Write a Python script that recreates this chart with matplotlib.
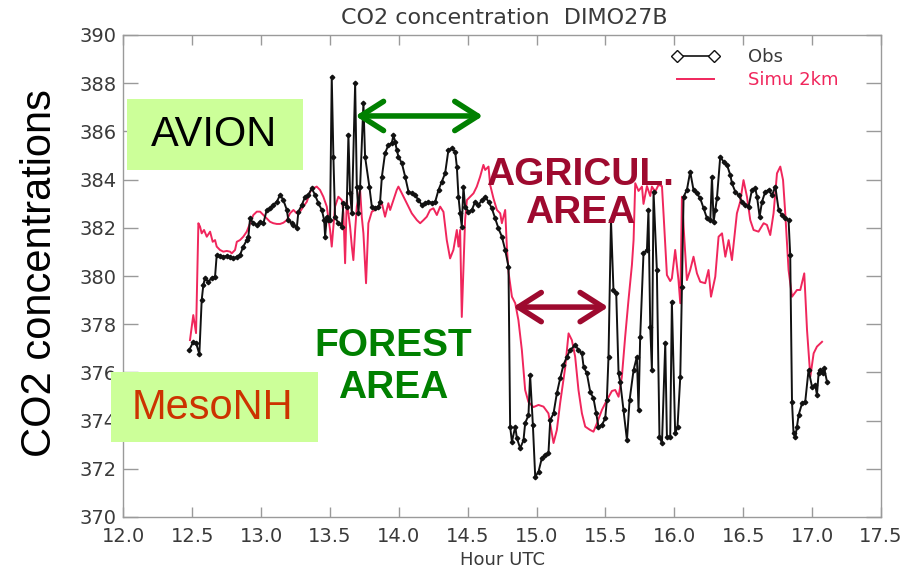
import matplotlib
matplotlib.use("Agg")
import matplotlib.pyplot as plt
from matplotlib.lines import Line2D
from matplotlib.patches import Rectangle

# ---------------- data ----------------
obs_hour = [12.479, 12.508, 12.528, 12.552, 12.569, 12.581, 12.593, 12.617, 12.642, 12.666,
            12.678, 12.702, 12.726, 12.751, 12.775, 12.799, 12.824, 12.847, 12.871, 12.896,
            12.908, 12.920, 12.944, 12.969, 12.993, 13.017, 13.041, 13.065, 13.089, 13.114,
            13.138, 13.162, 13.187, 13.198, 13.223, 13.235, 13.259, 13.271, 13.296, 13.320,
            13.343, 13.368, 13.392, 13.416, 13.441, 13.458, 13.465, 13.477, 13.489, 13.501,
            13.513, 13.525, 13.537, 13.561, 13.586, 13.598, 13.622, 13.634, 13.646, 13.659,
            13.683, 13.695, 13.707, 13.719, 13.743, 13.755, 13.786, 13.804, 13.828, 13.852,
            13.864, 13.877, 13.900, 13.924, 13.949, 13.961, 13.973, 13.985, 13.997, 14.022,
            14.046, 14.070, 14.094, 14.118, 14.142, 14.167, 14.191, 14.215, 14.240, 14.264,
            14.288, 14.312, 14.336, 14.360, 14.385, 14.409, 14.421, 14.433, 14.445, 14.457,
            14.469, 14.481, 14.505, 14.530, 14.554, 14.578, 14.603, 14.627, 14.651, 14.675,
            14.699, 14.723, 14.748, 14.772, 14.796, 14.808, 14.821, 14.845, 14.857, 14.881,
            14.905, 14.917, 14.941, 14.953, 14.973, 14.990, 15.014, 15.038, 15.062, 15.086,
            15.099, 15.123, 15.147, 15.171, 15.195, 15.220, 15.244, 15.280, 15.304, 15.329,
            15.341, 15.365, 15.389, 15.413, 15.433, 15.449, 15.474, 15.498, 15.510, 15.522,
            15.540, 15.558, 15.578, 15.595, 15.607, 15.631, 15.656, 15.675, 15.704, 15.728,
            15.740, 15.752, 15.776, 15.801, 15.812, 15.825, 15.837, 15.849, 15.873, 15.892,
            15.910, 15.934, 15.946, 15.970, 15.982, 16.006, 16.023, 16.043, 16.055, 16.067,
            16.091, 16.115, 16.139, 16.164, 16.188, 16.212, 16.237, 16.261, 16.273, 16.285,
            16.297, 16.309, 16.333, 16.357, 16.382, 16.406, 16.418, 16.442, 16.466, 16.491,
            16.515, 16.539, 16.563, 16.587, 16.600, 16.619, 16.636, 16.660, 16.684, 16.709,
            16.733, 16.757, 16.781, 16.805, 16.829, 16.841, 16.854, 16.865, 16.878, 16.890,
            16.902, 16.927, 16.950, 16.974, 16.999, 17.023, 17.035, 17.047, 17.059, 17.079,
            17.088, 17.108]

obs_ppm = [376.93, 377.27, 377.22, 376.76, 379.00, 379.63, 379.92, 379.76, 379.92, 379.97,
           380.87, 380.83, 380.79, 380.84, 380.78, 380.73, 380.80, 380.87, 381.22, 381.49,
           381.63, 382.39, 382.19, 382.12, 382.25, 382.19, 382.74, 382.81, 382.95, 383.08,
           383.36, 383.15, 382.74, 382.32, 382.19, 382.12, 381.98, 382.67, 382.95, 383.29,
           383.36, 383.64, 383.36, 383.02, 382.74, 382.32, 381.63, 382.46, 382.32, 382.32,
           388.27, 384.95, 382.46, 382.19, 382.05, 383.03, 382.88, 385.85, 383.44, 382.61,
           388.00, 383.71, 382.61, 383.71, 387.17, 384.95, 383.71, 382.88, 382.81, 382.88,
           383.08, 384.12, 385.09, 385.44, 385.51, 385.85, 385.57, 385.23, 384.95, 384.68,
           384.12, 383.50, 383.43, 383.36, 383.15, 382.95, 383.02, 383.08, 383.04, 383.08,
           383.57, 383.91, 384.26, 385.23, 385.30, 385.16, 384.54, 383.29, 382.60, 382.05,
           383.71, 382.88, 382.67, 382.74, 383.08, 382.95, 383.15, 383.29, 383.08, 382.81,
           382.39, 381.98, 381.63, 381.08, 380.39, 373.75, 373.12, 373.75, 373.27, 372.85,
           373.19, 373.89, 374.23, 375.89, 373.82, 371.67, 371.88, 372.44, 372.57, 372.64,
           374.02, 374.30, 375.13, 375.75, 376.31, 376.65, 376.93, 377.14, 376.93, 376.79,
           376.24, 375.96, 375.20, 374.92, 374.30, 373.75, 373.82, 374.09, 374.85, 376.65,
           382.32, 379.42, 379.28, 375.96, 375.61, 374.44, 373.19, 374.85, 376.10, 376.65,
           374.44, 377.48, 380.94, 381.08, 382.74, 377.90, 376.10, 383.50, 380.25, 373.33,
           373.06, 377.21, 373.33, 373.33, 378.93, 373.47, 373.75, 375.82, 379.56, 383.29,
           383.57, 384.33, 383.57, 383.43, 383.22, 382.81, 382.39, 382.32, 384.12, 382.25,
           382.74, 383.22, 384.95, 384.74, 384.61, 384.19, 383.85, 383.50, 383.36, 383.08,
           382.95, 382.88, 383.57, 383.64, 383.29, 382.46, 383.08, 383.50, 383.57, 383.36,
           383.71, 382.74, 382.53, 382.39, 382.32, 380.87, 374.78, 373.47, 373.33, 373.75,
           374.23, 374.72, 374.78, 376.10, 375.41, 375.48, 375.06, 375.96, 376.10, 375.96,
           376.17, 375.61]

simu_hour = [12.484, 12.508, 12.528, 12.545, 12.557, 12.569, 12.586, 12.606, 12.630, 12.649,
             12.666, 12.678, 12.702, 12.726, 12.751, 12.775, 12.787, 12.811, 12.824, 12.847,
             12.871, 12.896, 12.920, 12.944, 12.969, 12.993, 13.017, 13.041, 13.065, 13.089,
             13.114, 13.138, 13.162, 13.187, 13.210, 13.235, 13.259, 13.283, 13.307, 13.332,
             13.356, 13.380, 13.404, 13.428, 13.452, 13.477, 13.501, 13.513, 13.537, 13.561,
             13.586, 13.598, 13.610, 13.622, 13.646, 13.659, 13.670, 13.683, 13.695, 13.719,
             13.731, 13.743, 13.762, 13.779, 13.804, 13.828, 13.852, 13.877, 13.900, 13.924,
             13.937, 13.961, 13.985, 13.997, 14.022, 14.046, 14.070, 14.094, 14.131, 14.155,
             14.179, 14.203, 14.227, 14.251, 14.276, 14.300, 14.324, 14.348, 14.372, 14.396,
             14.421, 14.433, 14.445, 14.457, 14.469, 14.481, 14.494, 14.518, 14.542, 14.566,
             14.590, 14.614, 14.627, 14.651, 14.663, 14.687, 14.712, 14.736, 14.748, 14.772,
             14.784, 14.796, 14.821, 14.845, 14.868, 14.893, 14.917, 14.941, 14.977, 15.014,
             15.050, 15.086, 15.123, 15.147, 15.171, 15.208, 15.232, 15.256, 15.280, 15.304,
             15.329, 15.353, 15.389, 15.413, 15.438, 15.474, 15.510, 15.547, 15.571, 15.595,
             15.619, 15.643, 15.667, 15.692, 15.704, 15.716, 15.740, 15.765, 15.776, 15.801,
             15.825, 15.837, 15.861, 15.885, 15.910, 15.922, 15.946, 15.970, 15.982, 16.006,
             16.030, 16.043, 16.055, 16.067, 16.091, 16.115, 16.139, 16.164, 16.188, 16.224,
             16.248, 16.266, 16.297, 16.321, 16.346, 16.370, 16.394, 16.418, 16.454, 16.478,
             16.502, 16.527, 16.551, 16.575, 16.611, 16.648, 16.672, 16.696, 16.720, 16.745,
             16.769, 16.789, 16.805, 16.829, 16.854, 16.890, 16.914, 16.943, 16.963, 16.987,
             17.011, 17.035, 17.072]

simu_ppm = [377.34, 378.38, 377.63, 382.19, 382.05, 381.77, 381.91, 381.63, 381.84, 381.42,
            381.49, 381.22, 381.08, 381.01, 381.04, 381.01, 380.94, 381.08, 381.42, 381.49,
            381.63, 381.84, 382.19, 382.53, 382.67, 382.67, 382.53, 382.39, 382.25, 382.19,
            382.16, 382.16, 382.21, 382.32, 382.60, 382.74, 382.60, 382.67, 382.88, 383.08,
            383.50, 383.64, 383.71, 383.57, 383.29, 382.88, 381.91, 381.22, 382.88, 383.29,
            383.15, 382.60, 380.53, 383.15, 382.05, 381.22, 380.66, 381.91, 382.88, 383.57,
            382.46, 381.77, 379.70, 382.19, 382.67, 382.74, 382.88, 383.02, 382.46, 383.02,
            382.74, 383.15, 383.57, 383.71, 383.43, 383.15, 382.88, 382.60, 382.32, 382.19,
            382.32, 382.46, 382.74, 382.81, 382.53, 382.88, 382.66, 381.49, 380.73, 381.08,
            381.91, 381.22, 381.91, 378.30, 380.25, 382.32, 383.15, 383.29, 383.43, 383.71,
            384.12, 384.61, 384.40, 384.54, 383.78, 383.22, 382.74, 382.60, 382.19, 382.74,
            381.22, 380.17, 379.14, 378.87, 378.17, 376.93, 375.27, 374.77, 374.56, 374.65,
            374.58, 374.30, 373.07, 373.61, 374.73, 376.22, 377.62, 377.34, 376.65, 375.27,
            374.30, 373.75, 373.61, 373.54, 373.89, 374.44, 374.85, 375.23, 375.27, 374.99,
            375.82, 377.48, 379.00, 380.46, 381.49, 383.85, 383.53, 383.71, 382.99, 383.73,
            383.32, 383.71, 383.50, 383.78, 383.73, 382.53, 380.04, 379.79, 379.90, 381.08,
            379.83, 378.87, 383.29, 382.05, 379.83, 380.25, 380.80, 380.11, 379.76, 379.70,
            380.25, 379.14, 379.97, 381.63, 381.77, 380.80, 381.49, 380.66, 382.60, 383.08,
            383.98, 383.29, 382.32, 381.91, 381.84, 382.19, 382.12, 381.70, 382.60, 384.26,
            384.54, 383.98, 382.60, 380.25, 379.14, 379.42, 379.42, 380.11, 377.76, 375.82,
            376.79, 377.07, 377.27]

x_ticks = [12.0, 12.5, 13.0, 13.5, 14.0, 14.5, 15.0, 15.5, 16.0, 16.5, 17.0, 17.5]
y_ticks = [370, 372, 374, 376, 378, 380, 382, 384, 386, 388, 390]

# ---------------- figure ----------------
W, H = 902, 571
fig = plt.figure(figsize=(W / 100, H / 100), dpi=100)
ax = fig.add_axes([123.3 / W, 1 - 517 / H, (881 - 123.3) / W, (517 - 35) / H])

RED = '#f0265c'
GRAY = '#3a3a3a'
SPINE = '#9a9a9a'

ax.plot(simu_hour, simu_ppm, color=RED, lw=1.4, zorder=2)
ax.plot(obs_hour, obs_ppm, color='#111111', lw=1.4, marker='D', ms=2.3,
        mfc='#111111', mec='#111111', zorder=3)

ax.set_xlim(12.0, 17.5)
ax.set_ylim(370, 390)
ax.set_xticks(x_ticks)
ax.set_xticklabels([f"{t:.1f}" for t in x_ticks])
ax.set_yticks(y_ticks)
ax.set_yticklabels([str(t) for t in y_ticks])
for s in ax.spines.values():
    s.set_color(SPINE)
    s.set_linewidth(1.0)
ax.tick_params(axis='both', direction='in', top=True, right=True,
               colors=SPINE, labelcolor=GRAY, labelsize=14, width=1.0)
ax.tick_params(axis='x', length=7, pad=7)
ax.tick_params(axis='y', length=11, pad=5)

# legend
h_obs = Line2D([], [], color='#111111', lw=1.2, marker='D', ms=6, mfc='white', mec='#111111')
h_sim = Line2D([], [], color=RED, lw=1.4)
leg = ax.legend([h_obs, h_sim], ['Obs', 'Simu 2km'], loc='upper left',
                bbox_to_anchor=((672 - 123.3) / 757.7, (517 - 48) / 482),
                frameon=False, numpoints=2, handlelength=2.6, handletextpad=1.6,
                borderpad=0, borderaxespad=0, labelspacing=0.3, fontsize=13)
leg.get_texts()[0].set_color(GRAY)
leg.get_texts()[1].set_color(RED)

# titles / labels
fig.text(504 / W, 1 - 18 / H, 'CO2 concentration  DIMO27B', ha='center', va='center',
         fontsize=16, color=GRAY)
fig.text(503 / W, 1 - 560 / H, 'Hour UTC', ha='center', va='center', fontsize=13, color=GRAY)
fig.text(40 / W, 1 - 273 / H, 'CO2 concentrations', rotation=90, ha='center', va='center',
         fontsize=30, family='Liberation Sans', color='black')

# green boxes
BOXC = '#ccff99'
fig.add_artist(Rectangle((127 / W, 1 - 170 / H), 176 / W, 71 / H, transform=fig.transFigure,
                         facecolor=BOXC, edgecolor='none', zorder=5))
fig.text(214 / W, 1 - 135 / H, 'AVION', ha='center', va='center', fontsize=30,
         family='Liberation Sans', color='black', zorder=6)
fig.add_artist(Rectangle((111 / W, 1 - 442 / H), 207 / W, 70 / H, transform=fig.transFigure,
                         facecolor=BOXC, edgecolor='none', zorder=5))
fig.text(212 / W, 1 - 408 / H, 'MesoNH', ha='center', va='center', fontsize=30,
         family='Liberation Sans', color='#cc3300', zorder=6)

# area annotations
GREEN = '#008000'
DRED = '#9e0a2f'
ax.text((393 - 123.3) / 757.7, (517 - 367) / 482, 'FOREST\nAREA', transform=ax.transAxes,
        ha='center', va='center', fontsize=28, fontweight='bold', family='Liberation Sans',
        color=GREEN, linespacing=1.2, zorder=6)
ax.text((580 - 123.3) / 757.7, (517 - 194) / 482, 'AGRICUL.\nAREA', transform=ax.transAxes,
        ha='center', va='center', fontsize=28, fontweight='bold', family='Liberation Sans',
        color=DRED, linespacing=1.08, zorder=6)

ax.annotate('', xy=(14.61, 386.64), xytext=(13.685, 386.64),
            arrowprops=dict(arrowstyle='<->,head_length=0.55,head_width=0.35', lw=4,
                            color=GREEN, mutation_scale=30, shrinkA=0, shrinkB=0), zorder=6)
ax.annotate('', xy=(15.52, 378.71), xytext=(14.83, 378.71),
            arrowprops=dict(arrowstyle='<->,head_length=0.55,head_width=0.35', lw=4,
                            color=DRED, mutation_scale=30, shrinkA=0, shrinkB=0), zorder=6)

fig.savefig('out.png', dpi=100)
